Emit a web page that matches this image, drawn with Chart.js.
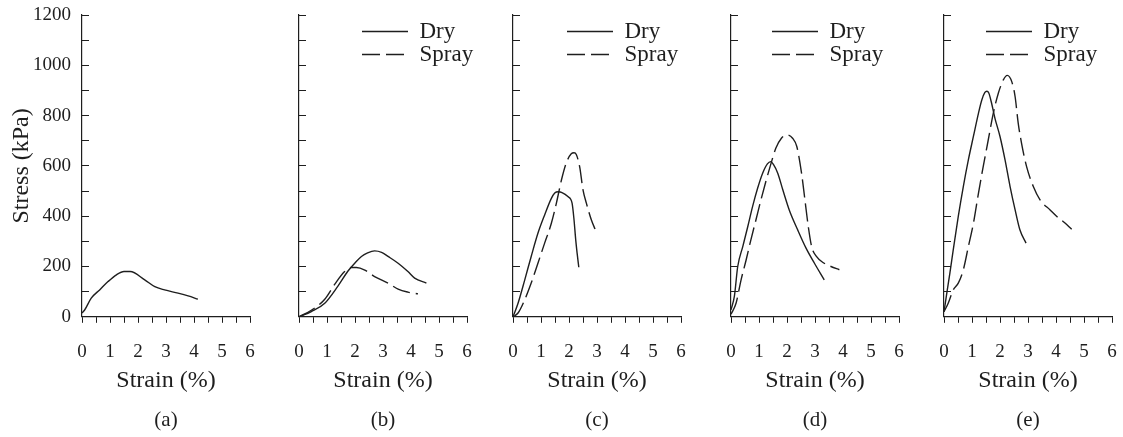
<!DOCTYPE html>
<html>
<head>
<meta charset="utf-8">
<script src="https://cdn.jsdelivr.net/npm/chart.js@4.4.1/dist/chart.umd.min.js"></script>
<style>
  body { margin: 0; background: #fff; }
  #wrap { position: relative; width: 1123px; height: 437px; overflow: hidden; }
  #wrap canvas { position: absolute; top: 0; }
</style>
</head>
<body>
<div id="wrap"></div>
<script>
// [strain %, stress kPa] for each curve
const dryA = [[0,15],[0.1,28],[0.33,74],[0.63,107],[0.93,140],[1.23,167],[1.5,180],[1.72,180],[2.24,147],[2.6,120],[2.95,107],[3.43,94],[3.79,83],[4.14,70]];

const dryB = [[0,0],[0.44,21],[0.92,54],[1.39,122],[1.75,182],[1.99,213],[2.23,240],[2.45,254],[2.7,262],[2.95,256],[3.18,240],[3.54,213],[3.89,180],[4.13,154],[4.55,134]];
const sprayB = [[0,0],[0.44,26],[0.92,70],[1.28,130],[1.63,180],[1.87,196],[2.05,196],[2.35,186],[2.7,160],[3.18,134],[3.54,110],[3.89,98],[4.25,91]];

const dryC = [[0,0],[0.18,54],[0.42,147],[0.65,240],[0.89,332],[1.13,405],[1.37,471],[1.49,492],[1.62,497],[1.75,494],[1.96,478],[2.11,452],[2.18,385],[2.24,306],[2.29,253],[2.35,197]];
const sprayC = [[0,0],[0.18,15],[0.42,68],[0.65,134],[0.89,213],[1.13,293],[1.37,372],[1.55,452],[1.73,544],[1.9,611],[2.08,648],[2.18,652],[2.26,645],[2.38,597],[2.5,505],[2.62,452],[2.8,385],[2.94,346]];

const dryD = [[0,28],[0.12,81],[0.24,200],[0.42,279],[0.6,359],[0.77,438],[0.95,511],[1.13,571],[1.3,608],[1.42,617],[1.52,605],[1.67,571],[1.85,505],[2.08,425],[2.38,346],[2.68,273],[2.98,213],[3.33,147]];
const sprayD = [[0,10],[0.18,54],[0.36,147],[0.54,226],[0.71,306],[0.89,385],[1.07,465],[1.25,540],[1.43,610],[1.6,670],[1.8,710],[2.0,723],[2.2,710],[2.35,677],[2.52,571],[2.64,465],[2.76,359],[2.88,279],[3.05,240],[3.3,215],[3.57,200],[3.87,187]];

const dryE = [[0,20],[0.1,94],[0.21,174],[0.33,266],[0.51,399],[0.69,518],[0.87,624],[1.05,717],[1.23,809],[1.35,862],[1.46,892],[1.53,897],[1.6,890],[1.7,849],[1.82,789],[2.0,717],[2.18,624],[2.36,518],[2.54,425],[2.71,346],[2.93,293]];
const sprayE = [[0,20],[0.15,54],[0.33,107],[0.51,134],[0.69,187],[0.87,279],[1.05,372],[1.23,491],[1.4,597],[1.58,703],[1.76,809],[1.94,889],[2.12,942],[2.26,960],[2.42,935],[2.54,875],[2.65,770],[2.77,690],[2.95,597],[3.19,518],[3.43,465],[3.79,425],[4.02,400],[4.3,375],[4.56,348]];

const captions = ['(a)', '(b)', '(c)', '(d)', '(e)'];
const panelData = [
  [['Dry', dryA]],
  [['Dry', dryB], ['Spray', sprayB]],
  [['Dry', dryC], ['Spray', sprayC]],
  [['Dry', dryD], ['Spray', sprayD]],
  [['Dry', dryE], ['Spray', sprayE]]
];

const INK = '#1e1e1e';
const SERIF = "'Liberation Serif', 'Times New Roman', serif";
const PLOT_W = 168;
const LINE_W = 1.4;
const DASH = [18, 6];
const axisLeft = [82, 299, 513, 731, 944];
const legendDx = [0, 63, 54, 41, 42];

Chart.defaults.font.family = SERIF;
Chart.defaults.color = INK;

// moves the in-plot legend to a fixed spot inside the chart area
const legendShift = {
  id: 'legendShift',
  afterLayout(chart, args, opts) {
    const lg = chart.legend;
    if (!lg || !lg.options.display) return;
    const area = chart.chartArea;
    lg.left = area.left + opts.dx;
    lg.top = area.top + opts.dy;
    lg.right = lg.left + lg.width;
    lg.bottom = lg.top + lg.height;
  }
};

// line samples keep the dataset's dash pattern
function lineLabels(chart) {
  const items = Chart.defaults.plugins.legend.labels.generateLabels(chart);
  items.forEach(it => {
    const ds = chart.data.datasets[it.datasetIndex];
    it.lineDash = ds.borderDash;
    it.lineWidth = ds.borderWidth;
    it.strokeStyle = ds.borderColor;
  });
  return items;
}

function makePanel(i) {
  const first = i === 0;
  const yw = first ? 82 : 30;
  const cv = document.createElement('canvas');
  cv.width = yw + PLOT_W + 20;
  cv.height = 437;
  cv.style.left = (axisLeft[i] - yw) + 'px';
  document.getElementById('wrap').appendChild(cv);

  const datasets = panelData[i].map(([label, pts]) => ({
    label: label,
    data: pts.map(p => ({ x: p[0], y: p[1] })),
    borderColor: INK,
    backgroundColor: INK,
    borderWidth: LINE_W,
    borderDash: label === 'Spray' ? DASH : [],
    pointRadius: 0,
    cubicInterpolationMode: 'monotone',
    fill: false
  }));

  new Chart(cv, {
    type: 'line',
    data: { datasets: datasets },
    plugins: [legendShift],
    options: {
      responsive: false,
      animation: false,
      events: [],
      layout: { padding: { left: 0, right: 20, top: 15, bottom: 0 } },
      scales: {
        x: {
          type: 'linear',
          min: 0, max: 6,
          afterFit(scale) {
            scale.height = 91;
            scale.paddingLeft = 0;
            scale.paddingRight = 0;
          },
          border: { display: true, color: INK, width: 1.2 },
          grid: { drawOnChartArea: false, drawTicks: true, tickLength: 6, color: INK, lineWidth: 1 },
          ticks: {
            stepSize: 0.5, autoSkip: false, maxRotation: 0, padding: 18,
            font: { size: 19 }, color: INK,
            callback: v => Number.isInteger(v) ? String(v) : ''
          },
          title: { display: true, text: 'Strain (%)', font: { size: 24 }, color: INK, padding: { top: 0, bottom: 13 } }
        },
        y: {
          min: 0, max: 1200,
          afterFit(scale) {
            scale.width = yw;
            scale.paddingTop = 0;
            scale.paddingBottom = 0;
          },
          border: { display: true, color: INK, width: 1.2 },
          grid: { drawOnChartArea: false, drawTicks: true, tickLength: -7, color: INK, lineWidth: 1 },
          ticks: {
            display: first,
            stepSize: 100, autoSkip: false, padding: 18,
            font: { size: 19 }, color: INK,
            callback: v => v % 200 === 0 ? String(v) : ''
          },
          title: { display: first, text: 'Stress (kPa)', font: { size: 24 }, color: INK, padding: { top: 7, bottom: 0 } }
        }
      },
      plugins: {
        legend: {
          display: !first,
          position: 'chartArea',
          align: 'start',
          labels: {
            usePointStyle: true,
            pointStyle: 'line',
            pointStyleWidth: 46,
            padding: 0,
            font: { size: 23 },
            color: INK,
            generateLabels: lineLabels
          }
        },
        legendShift: { dx: legendDx[i], dy: 5 },
        title: {
          display: true,
          text: captions[i],
          position: 'bottom',
          fullSize: false,
          font: { size: 21, weight: 'normal' },
          color: INK,
          padding: { top: 0, bottom: 4 }
        },
        tooltip: { enabled: false }
      }
    }
  });
}

for (let i = 0; i < 5; i++) makePanel(i);
</script>
</body>
</html>
